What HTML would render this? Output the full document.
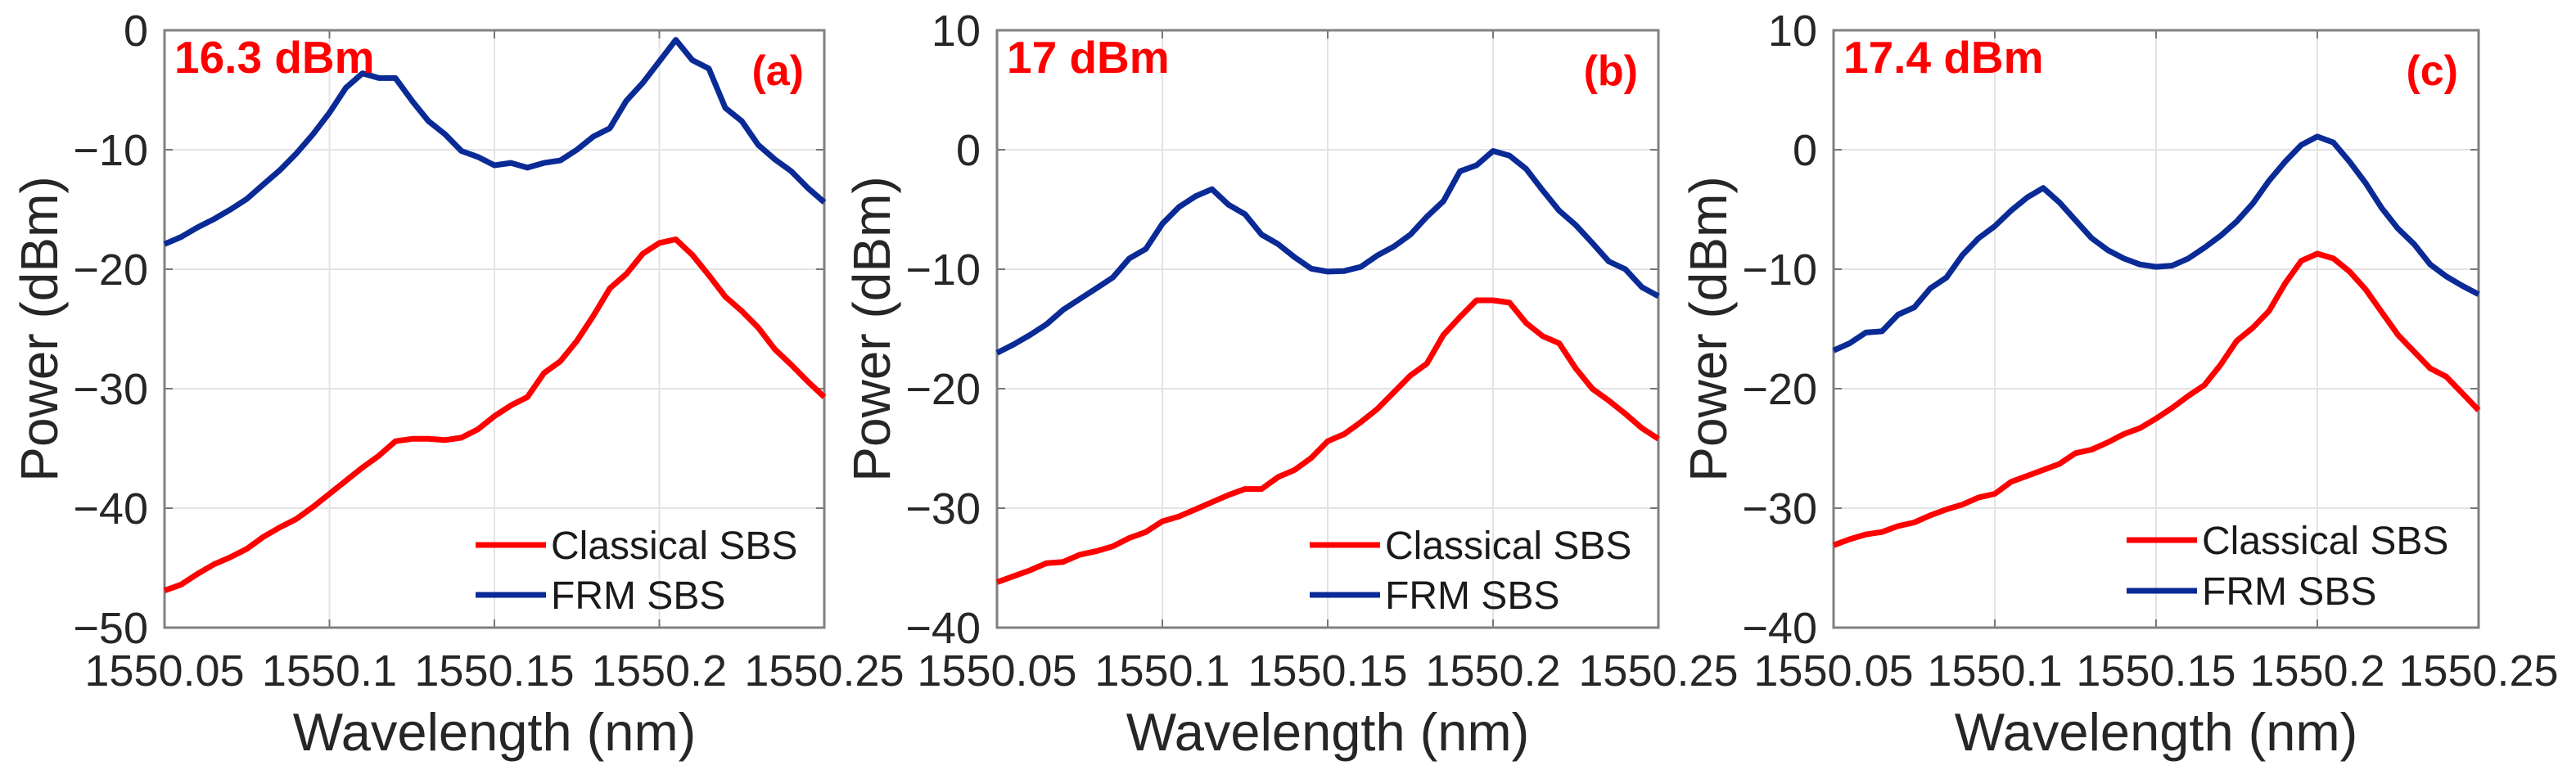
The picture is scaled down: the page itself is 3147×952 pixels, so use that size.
<!DOCTYPE html>
<html><head><meta charset="utf-8"><style>
html,body{margin:0;padding:0;background:#fff;}
svg{display:block;font-family:"Liberation Sans",Arial,sans-serif;}
</style></head><body>
<svg id="fig" width="3147" height="952" viewBox="0 0 3147 952" xmlns="http://www.w3.org/2000/svg"></svg>
<script>
const wavelengths = [];
for (let k = 0; k <= 40; k++) wavelengths.push(1550.05 + k * 0.005);
const xTicks = [1550.05, 1550.1, 1550.15, 1550.2, 1550.25];
const xTickLabels = ["1550.05", "1550.1", "1550.15", "1550.2", "1550.25"];
const seriesNames = ["Classical SBS", "FRM SBS"];
const panelNotes = ["16.3 dBm", "17 dBm", "17.4 dBm"];
const panelTags = ["(a)", "(b)", "(c)"];
const yTicksA = [0, -10, -20, -30, -40, -50];
const yTicksBC = [10, 0, -10, -20, -30, -40];
const frmA = [-17.9,-17.3,-16.5,-15.8,-15.0,-14.1,-12.9,-11.7,-10.3,-8.7,-6.9,-4.8,-3.6,-4.0,-4.0,-5.9,-7.6,-8.7,-10.1,-10.6,-11.3,-11.1,-11.5,-11.1,-10.9,-10.0,-8.9,-8.2,-5.9,-4.4,-2.6,-0.8,-2.5,-3.2,-6.5,-7.6,-9.6,-10.8,-11.8,-13.2,-14.4];
const clsA = [-46.9,-46.4,-45.5,-44.7,-44.1,-43.4,-42.4,-41.6,-40.9,-39.9,-38.8,-37.7,-36.6,-35.6,-34.4,-34.2,-34.2,-34.3,-34.1,-33.4,-32.3,-31.4,-30.7,-28.7,-27.7,-26.0,-23.9,-21.6,-20.4,-18.7,-17.8,-17.5,-18.8,-20.5,-22.3,-23.5,-24.9,-26.7,-28.0,-29.4,-30.7];
const frmB = [-17.0,-16.3,-15.5,-14.6,-13.4,-12.5,-11.6,-10.7,-9.1,-8.3,-6.2,-4.8,-3.9,-3.3,-4.6,-5.4,-7.1,-7.9,-9.0,-9.95,-10.2,-10.15,-9.8,-8.85,-8.1,-7.1,-5.6,-4.3,-1.8,-1.3,-0.1,-0.5,-1.6,-3.4,-5.1,-6.3,-7.8,-9.35,-10.0,-11.5,-12.25];
const clsB = [-36.2,-35.7,-35.2,-34.6,-34.5,-33.9,-33.6,-33.2,-32.5,-32.0,-31.1,-30.7,-30.1,-29.5,-28.9,-28.4,-28.4,-27.4,-26.8,-25.8,-24.4,-23.8,-22.8,-21.7,-20.3,-18.9,-17.9,-15.5,-14.0,-12.6,-12.6,-12.8,-14.5,-15.6,-16.2,-18.3,-20.0,-21.0,-22.1,-23.3,-24.2];
const frmC = [-16.8,-16.2,-15.3,-15.2,-13.8,-13.2,-11.6,-10.7,-8.8,-7.4,-6.4,-5.1,-4.0,-3.2,-4.4,-5.9,-7.4,-8.4,-9.1,-9.6,-9.8,-9.7,-9.1,-8.2,-7.2,-6.0,-4.5,-2.6,-1.0,0.4,1.1,0.6,-1.0,-2.8,-4.9,-6.6,-7.9,-9.6,-10.6,-11.4,-12.1];
const clsC = [-33.1,-32.6,-32.2,-32.0,-31.5,-31.2,-30.6,-30.1,-29.7,-29.1,-28.8,-27.8,-27.3,-26.8,-26.3,-25.4,-25.1,-24.5,-23.8,-23.3,-22.5,-21.6,-20.6,-19.7,-18.0,-16.0,-14.9,-13.5,-11.2,-9.3,-8.7,-9.1,-10.2,-11.7,-13.6,-15.5,-16.9,-18.3,-19.0,-20.4,-21.8];

const NS = "http://www.w3.org/2000/svg";
const svg = document.getElementById("fig");
function mk(tag, attrs, parent) {
  const e = document.createElementNS(NS, tag);
  for (const k in attrs) e.setAttribute(k, attrs[k]);
  (parent || svg).appendChild(e);
  return e;
}
const panels = [
  {l:201, r:1007, ymin:-50, ymax:0, yt:yTicksA, frm:frmA, cls:clsA, legLine:581, legY:[666,727], name:"a"},
  {l:1218, r:2026, ymin:-40, ymax:10, yt:yTicksBC, frm:frmB, cls:clsB, legLine:1600, legY:[666,727], name:"b"},
  {l:2240, r:3028, ymin:-40, ymax:10, yt:yTicksBC, frm:frmC, cls:clsC, legLine:2598, legY:[660,722], name:"c"}
];
const plotTop = 37, plotBot = 767;
panels.forEach((p, i) => {
  const g = mk("g", {});
  
  
  const xs = v => p.l + (v - 1550.05) / 0.2 * (p.r - p.l);
  const ys = v => plotTop + (p.ymax - v) / (p.ymax - p.ymin) * (plotBot - plotTop);
  xTicks.forEach((t, j) => {
    const x = xs(t);
    const gl = mk("line", {x1:x, x2:x, y1:plotTop, y2:plotBot, stroke:"#e3e3e3", "stroke-width":2}, g);
    
    
    mk("line", {x1:x, x2:x, y1:plotBot, y2:plotBot-10, stroke:"#777", "stroke-width":2}, g);
    mk("line", {x1:x, x2:x, y1:plotTop, y2:plotTop+10, stroke:"#777", "stroke-width":2}, g);
    const tx = mk("text", {x:x, y:838, "font-size":54, fill:"#262626", "text-anchor":"middle"}, g);
    tx.textContent = xTickLabels[j];
    
    
  });
  p.yt.forEach(t => {
    const y = ys(t);
    const gl = mk("line", {x1:p.l, x2:p.r, y1:y, y2:y, stroke:"#e3e3e3", "stroke-width":2}, g);
    
    
    mk("line", {x1:p.l, x2:p.l+10, y1:y, y2:y, stroke:"#777", "stroke-width":2}, g);
    mk("line", {x1:p.r, x2:p.r-10, y1:y, y2:y, stroke:"#777", "stroke-width":2}, g);
    const tx = mk("text", {x:p.l-20, y:y+19, "font-size":54, fill:"#262626", "text-anchor":"end"}, g);
    tx.textContent = t < 0 ? "\u2212" + Math.abs(t) : String(t);
    
    
  });
  const box = mk("rect", {x:p.l, y:plotTop, width:p.r-p.l, height:plotBot-plotTop, fill:"none", stroke:"#808080", "stroke-width":3}, g);
  
  
  const mkLine = (arr, col, nm) => {
    const d = arr.map((v, k) => (k ? "L" : "M") + xs(wavelengths[k]).toFixed(1) + " " + ys(v).toFixed(1)).join(" ");
    const pa = mk("path", {d:d, fill:"none", stroke:col, "stroke-width":7, "stroke-linejoin":"round"}, g);
    
    
  };
  mkLine(p.frm, "#0a2a96", "frm-sbs-line");
  mkLine(p.cls, "#ff0000", "classical-sbs-line");
  const cols = ["#ff0000", "#0a2a96"];
  seriesNames.forEach((s, j) => {
    const y = p.legY[j];
    const ll = mk("line", {x1:p.legLine, x2:p.legLine+86, y1:y, y2:y, stroke:cols[j], "stroke-width":7}, g);
    
    
    const t = mk("text", {x:p.legLine+92, y:y+17, "font-size":48, fill:"#1a1a1a"}, g);
    t.textContent = s;
    
    
  });
  const n = mk("text", {x:p.l+12, y:89, "font-size":55, "font-weight":"bold", fill:"#ff0000"}, g);
  n.textContent = panelNotes[i];
  
  
  const tg = mk("text", {x:p.r-25, y:104, "font-size":52, "font-weight":"bold", fill:"#ff0000", "text-anchor":"end"}, g);
  tg.textContent = panelTags[i];
  
  
  const xl = mk("text", {x:(p.l+p.r)/2, y:917, "font-size":65, fill:"#262626", "text-anchor":"middle"}, g);
  xl.textContent = "Wavelength (nm)";
  
  
  const yl = mk("text", {x:0, y:0, "font-size":64, fill:"#262626", "text-anchor":"middle", transform:"translate(" + (p.l-131) + "," + ((plotTop+plotBot)/2) + ") rotate(-90)"}, g);
  yl.textContent = "Power (dBm)";
  
  
});
</script>
</body></html>
